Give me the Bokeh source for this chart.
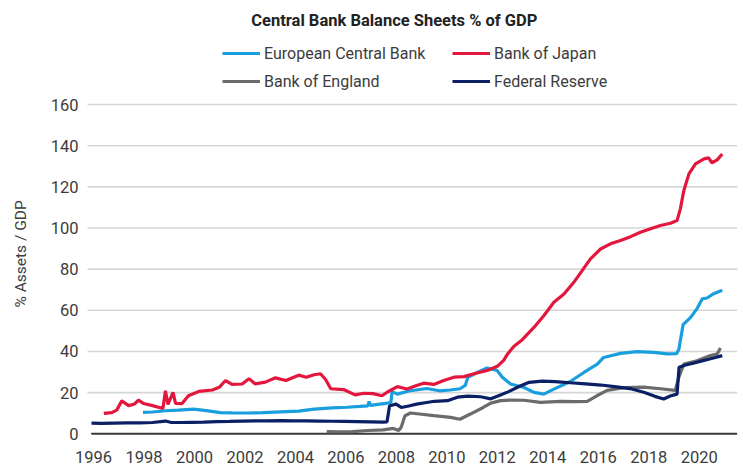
import math
from bokeh.plotting import figure
from bokeh.models import Range1d, FixedTicker, Legend, LegendItem, Label
from bokeh.embed import file_html
from bokeh.resources import INLINE

FONT = "Roboto"

X_TICKS = [1996, 1998, 2000, 2002, 2004, 2006, 2008, 2010, 2012, 2014, 2016, 2018, 2020]
Y_TICKS = [0, 20, 40, 60, 80, 100, 120, 140, 160]

fed_year = [1995.92, 1996.31, 1996.82, 1997.32, 1997.83, 1998.34, 1998.85, 1999.05, 1999.46, 1999.86,
            2000.37, 2000.88, 2001.39, 2001.89, 2002.40, 2002.91, 2003.42, 2003.92, 2004.43, 2004.94,
            2005.45, 2005.95, 2006.46, 2006.97, 2007.48, 2007.63, 2007.73, 2007.99, 2008.19, 2008.49,
            2008.80, 2009.20, 2009.51, 2010.02, 2010.42, 2010.83, 2011.34, 2011.74, 2012.05, 2012.45,
            2012.86, 2013.26, 2013.77, 2014.28, 2014.89, 2015.50, 2016.11, 2016.72, 2017.33, 2017.83,
            2018.24, 2018.59, 2018.85, 2019.12, 2019.20, 2019.46, 2019.76, 2020.07, 2020.37, 2020.68,
            2020.91]
fed_val = [5.2, 5.1, 5.2, 5.3, 5.3, 5.5, 6.2, 5.6, 5.5, 5.6,
           5.7, 5.9, 6.0, 6.2, 6.3, 6.3, 6.4, 6.3, 6.3, 6.2,
           6.1, 6.0, 5.9, 5.8, 5.7, 5.8, 13.6, 14.4, 12.8, 13.5,
           14.4, 15.2, 15.8, 16.1, 17.8, 18.3, 18.0, 17.0, 18.5, 20.5,
           23.0, 25.0, 25.6, 25.4, 24.8, 24.3, 23.7, 22.8, 21.8, 20.1,
           18.2, 16.9, 18.4, 19.3, 32.3, 33.4, 34.3, 35.3, 36.2, 37.2,
           38.0]

ecb_year = [1997.96, 1998.34, 1998.85, 1999.36, 1999.96, 2000.47, 2001.03, 2001.49, 2002.10, 2002.71,
            2003.42, 2004.13, 2004.74, 2005.45, 2006.06, 2006.56, 2006.87, 2006.92, 2006.97, 2007.58,
            2007.78, 2007.83, 2008.04, 2008.49, 2009.20, 2009.71, 2010.12, 2010.52, 2010.73, 2010.83,
            2011.23, 2011.59, 2011.99, 2012.20, 2012.52, 2013.06, 2013.45, 2013.84, 2014.24, 2014.89,
            2015.43, 2015.96, 2016.21, 2016.88, 2017.53, 2018.20, 2018.73, 2019.10, 2019.19, 2019.36,
            2019.66, 2019.91, 2020.12, 2020.31, 2020.57, 2020.91]
ecb_val = [10.4, 10.6, 11.2, 11.5, 12.0, 11.3, 10.3, 10.2, 10.1, 10.3,
           10.7, 11.0, 12.0, 12.6, 12.9, 13.3, 13.6, 15.7, 13.8, 14.8,
           15.2, 20.5, 19.3, 20.8, 22.0, 20.9, 21.3, 21.9, 23.5, 27.5,
           29.9, 32.0, 30.8, 27.5, 24.2, 22.5, 20.1, 19.3, 21.7, 25.4,
           29.8, 33.9, 37.1, 39.1, 39.9, 39.6, 38.8, 38.9, 41.0, 53.0,
           56.6, 60.8, 65.6, 66.0, 68.1, 69.7]

boj_year = [1996.41, 1996.72, 1996.92, 1997.12, 1997.39, 1997.63, 1997.78, 1997.99, 1998.34, 1998.75,
            1998.85, 1998.95, 1999.15, 1999.25, 1999.51, 1999.76, 2000.17, 2000.71, 2000.98, 2001.23,
            2001.49, 2001.89, 2002.16, 2002.40, 2002.81, 2003.21, 2003.62, 2004.13, 2004.43, 2004.74,
            2004.99, 2005.19, 2005.40, 2005.91, 2006.36, 2006.72, 2007.07, 2007.43, 2007.63, 2008.04,
            2008.42, 2008.80, 2009.08, 2009.48, 2009.87, 2010.28, 2010.68, 2011.07, 2011.60, 2012.00,
            2012.25, 2012.39, 2012.66, 2012.98, 2013.45, 2013.84, 2014.24, 2014.64, 2015.03, 2015.36,
            2015.69, 2016.09, 2016.48, 2016.88, 2017.28, 2017.67, 2018.07, 2018.46, 2018.86, 2019.12,
            2019.25, 2019.39, 2019.59, 2019.85, 2020.19, 2020.37, 2020.50, 2020.71, 2020.91]
boj_val = [9.9, 10.3, 11.5, 16.0, 13.7, 14.5, 16.4, 14.7, 13.7, 12.3,
           20.9, 14.3, 20.1, 14.8, 14.7, 18.5, 20.6, 21.3, 22.6, 25.9,
           24.0, 24.2, 26.8, 24.3, 25.1, 27.2, 25.9, 28.5, 27.5, 28.7,
           29.2, 26.5, 21.9, 21.5, 18.9, 19.7, 19.5, 18.5, 20.2, 22.9,
           21.8, 23.5, 24.6, 24.0, 25.9, 27.5, 27.8, 29.2, 30.8, 32.8,
           35.7, 38.5, 42.5, 45.6, 51.7, 57.4, 63.9, 67.9, 73.6, 79.3,
           85.0, 89.8, 92.3, 93.9, 95.8, 97.9, 99.6, 101.2, 102.3, 103.6,
           109.3, 118.2, 126.3, 131.2, 133.6, 134.1, 131.7, 133.1, 136.0]

boe_year = [2005.24, 2005.75, 2006.26, 2006.87, 2007.48, 2007.88, 2008.09, 2008.19, 2008.34, 2008.56,
            2009.00, 2009.48, 2010.15, 2010.52, 2010.93, 2011.44, 2011.74, 2012.13, 2012.52, 2013.06,
            2013.71, 2014.50, 2015.09, 2015.56, 2015.96, 2016.35, 2017.01, 2017.80, 2018.46, 2019.05,
            2019.19, 2019.39, 2019.91, 2020.44, 2020.71, 2020.84]
boe_val = [1.1, 1.0, 1.1, 1.6, 1.9, 2.6, 1.6, 3.2, 8.8, 10.1,
           9.5, 8.8, 8.0, 7.1, 9.6, 12.8, 14.9, 16.1, 16.4, 16.3,
           15.3, 15.8, 15.6, 15.8, 18.6, 21.1, 22.4, 22.7, 21.9, 21.1,
           27.4, 33.9, 35.5, 38.0, 38.8, 41.7]

TXT = "#3c3c3c"

# frame covers the whole canvas: 25.24 px per year, 2.058 px per unit
X0, X1 = 1992.315, 2021.753
Y0, Y1 = -18.80, 210.54
PLOT_LEFT = 1995.762
ZERO_LEFT = 1995.909
PLOT_RIGHT = 2021.50

p = figure(width=743, height=472, output_backend="svg", toolbar_location=None,
           x_range=Range1d(X0, X1), y_range=Range1d(Y0, Y1),
           min_border_left=0, min_border_right=0, min_border_top=0, min_border_bottom=0)
p.outline_line_color = None
p.background_fill_color = "white"
p.border_fill_color = "white"
p.xgrid.visible = False
p.ygrid.visible = False

# horizontal gridlines
grid_y = [t for t in Y_TICKS if t > 0]
p.segment(x0=[PLOT_LEFT] * len(grid_y), y0=grid_y, x1=[PLOT_RIGHT] * len(grid_y), y1=grid_y,
          line_color="#d6d6d6", line_width=1.6)

# y axis fixed at plot left
p.yaxis.fixed_location = PLOT_LEFT
p.yaxis.ticker = FixedTicker(ticks=Y_TICKS)
p.yaxis.axis_line_color = None
p.yaxis.major_tick_line_color = None
p.yaxis.minor_tick_line_color = None
p.yaxis.major_tick_out = 0
p.yaxis.major_tick_in = 0
p.yaxis.major_label_standoff = 9
p.yaxis.major_label_text_font = FONT
p.yaxis.major_label_text_font_size = "16.5px"
p.yaxis.major_label_text_color = TXT

# x axis fixed at zero
p.xaxis.fixed_location = 0
p.xaxis.ticker = FixedTicker(ticks=X_TICKS)
p.xaxis.axis_line_color = None
p.xaxis.major_tick_line_color = None
p.xaxis.minor_tick_line_color = None
p.xaxis.major_tick_out = 0
p.xaxis.major_tick_in = 0
p.xaxis.major_label_standoff = 17
p.xaxis.major_label_text_font = FONT
p.xaxis.major_label_text_font_size = "16.5px"
p.xaxis.major_label_text_color = TXT

# zero line
p.segment(x0=[ZERO_LEFT], y0=[0], x1=[PLOT_RIGHT], y1=[0], line_color="#3a3a3a", line_width=2)

r_boe = p.line(boe_year, boe_val, line_color="#6b6b6b", line_width=3.2)
r_ecb = p.line(ecb_year, ecb_val, line_color="#1a9fde", line_width=3.2)
r_fed = p.line(fed_year, fed_val, line_color="#0b1f65", line_width=3.2)
r_boj = p.line(boj_year, boj_val, line_color="#e3173e", line_width=3.2)

legend = Legend(items=[LegendItem(label="European Central Bank", renderers=[r_ecb]),
                       LegendItem(label="Bank of Japan", renderers=[r_boj]),
                       LegendItem(label="Bank of England", renderers=[r_boe]),
                       LegendItem(label="Federal Reserve", renderers=[r_fed])],
                location=(222, 381), orientation="horizontal", ncols=2)
legend.glyph_width = 38
legend.glyph_height = 20
legend.label_standoff = 4
legend.label_width = 180
legend.label_height = 20
legend.spacing = 8
legend.padding = 0
legend.margin = 0
legend.border_line_alpha = 0
legend.background_fill_alpha = 0
legend.label_text_font = FONT
legend.label_text_font_size = "16px"
legend.label_text_color = TXT
p.add_layout(legend, "center")

title = Label(x=2008.0, y=200.83, text="Central Bank Balance Sheets  % of GDP",
              text_font=FONT, text_font_size="16.5px", text_font_style="bold",
              text_color="#222222", text_align="center", text_baseline="middle")
p.add_layout(title)

ylab = Label(x=1993.13, y=87.4, text="% Assets / GDP", angle=math.pi / 2,
             text_font=FONT, text_font_size="15.5px", text_color=TXT,
             text_align="center", text_baseline="middle")
p.add_layout(ylab)

open("out.html", "w").write(file_html(p, INLINE))
